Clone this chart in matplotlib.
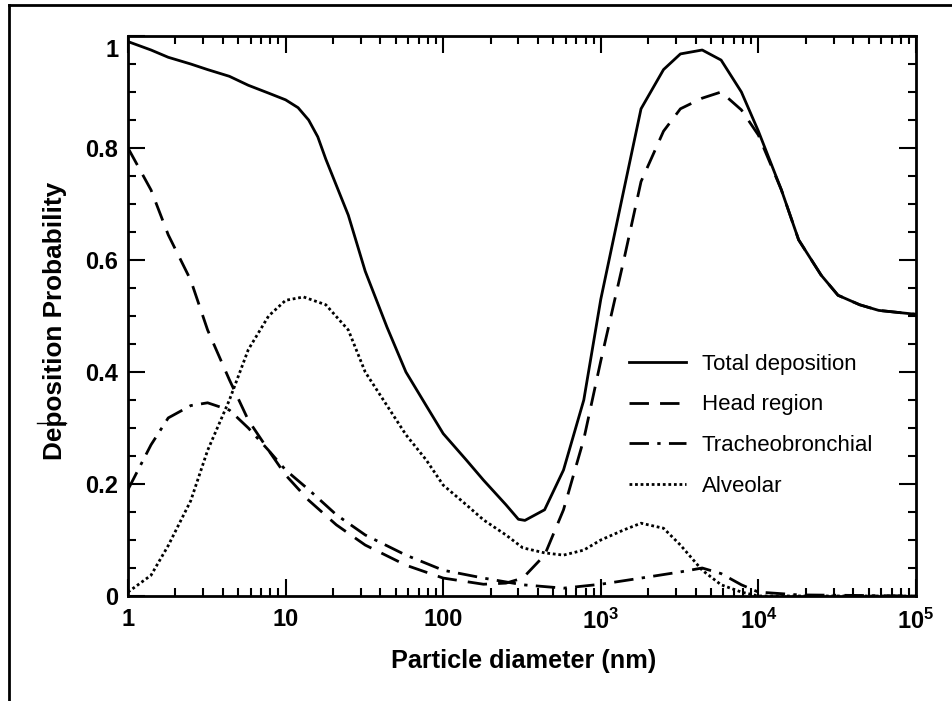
import matplotlib
matplotlib.use("Agg")
import matplotlib.pyplot as plt
import matplotlib.transforms as mtransforms
from matplotlib.lines import Line2D
from matplotlib.ticker import FixedLocator, NullFormatter

plt.rcParams['font.family'] = ['Liberation Sans', 'DejaVu Sans']
plt.rcParams['mathtext.fontset'] = 'custom'
plt.rcParams['mathtext.rm'] = 'Liberation Sans:bold'

# diameters (nm) and deposition fractions
total_d = [1, 1.4, 1.8, 2.5, 3.2, 4.4, 5.8, 7.8, 10, 12, 14, 16, 18, 25, 32, 44, 58, 78, 100,
           140, 180, 250, 300, 330, 440, 580, 780, 1000, 1400, 1800, 2500, 3200, 4400,
           5800, 7800, 10000, 14000, 18000, 25000, 32000, 44000, 58000, 100000]
total_p = [0.99, 0.975, 0.962, 0.95, 0.94, 0.928, 0.912, 0.898, 0.886, 0.872, 0.85, 0.82,
           0.78, 0.68, 0.58, 0.48, 0.40, 0.34, 0.29, 0.243, 0.207, 0.163, 0.137, 0.135,
           0.154, 0.225, 0.35, 0.53, 0.725, 0.87, 0.94, 0.968, 0.975, 0.957, 0.90, 0.83,
           0.725, 0.636, 0.573, 0.537, 0.52, 0.51, 0.503]

head_d = [1, 1.4, 1.8, 2.5, 3.2, 4.4, 5.8, 7.8, 10, 14, 21, 32, 58, 100, 180, 250, 320,
          440, 580, 780, 1000, 1400, 1800, 2500, 3200, 4400, 5800, 7800, 10000, 14000,
          18000, 25000, 32000, 44000, 58000, 100000]
head_p = [0.80, 0.725, 0.645, 0.564, 0.475, 0.386, 0.314, 0.26, 0.216, 0.171, 0.127,
          0.091, 0.055, 0.032, 0.021, 0.023, 0.032, 0.073, 0.154, 0.28, 0.42, 0.60, 0.74,
          0.83, 0.87, 0.889, 0.90, 0.868, 0.823, 0.725, 0.636, 0.573, 0.537, 0.52, 0.51,
          0.503]

tb_d = [1, 1.4, 1.8, 2.5, 3.2, 4.4, 5.8, 7.8, 10, 14, 21, 32, 58, 100, 180, 320, 580,
        1000, 1800, 3200, 4400, 5800, 7800, 10000, 18000, 100000]
tb_p = [0.19, 0.27, 0.318, 0.34, 0.345, 0.332, 0.30, 0.26, 0.225, 0.19, 0.145, 0.109,
        0.073, 0.046, 0.032, 0.02, 0.014, 0.021, 0.032, 0.043, 0.05, 0.04, 0.02, 0.007,
        0.002, 0.0]

alv_d = [1, 1.4, 1.8, 2.5, 3.2, 4.4, 5.8, 7.8, 10, 13, 18, 25, 32, 44, 58, 78, 100, 140,
         180, 250, 320, 440, 580, 780, 1000, 1400, 1800, 2500, 3200, 4400, 5800, 7800,
         10000, 100000]
alv_p = [0.007, 0.037, 0.09, 0.17, 0.26, 0.35, 0.44, 0.50, 0.528, 0.534, 0.52, 0.475,
         0.40, 0.34, 0.288, 0.243, 0.198, 0.163, 0.136, 0.109, 0.086, 0.077, 0.073, 0.082,
         0.10, 0.118, 0.13, 0.121, 0.091, 0.046, 0.02, 0.007, 0.0, 0.0]

labels = ['Total deposition', 'Head region', 'Tracheobronchial', 'Alveolar']
x_ticks = [1, 10, 100, 1000, 10000, 100000]
x_tick_labels = ['1', '10', '100', r'$\mathregular{10^3}$', r'$\mathregular{10^4}$',
                 r'$\mathregular{10^5}$']
y_ticks = [0, 0.2, 0.4, 0.6, 0.8, 1]
y_tick_labels = ['0', '0.2', '0.4', '0.6', '0.8', '1']

fig = plt.figure(figsize=(9.52, 7.01), dpi=100)
ax = fig.add_axes([128 / 952, 105 / 701, 788 / 952, 560 / 701])

lw = 2.0
ax.plot(total_d, total_p, color='black', lw=lw, linestyle='-', label=labels[0])
ax.plot(head_d, head_p, color='black', lw=lw, linestyle=(0, (7, 4)), label=labels[1])
ax.plot(tb_d, tb_p, color='black', lw=lw, linestyle=(0, (7, 3, 1.2, 3)), label=labels[2])
ax.plot(alv_d, alv_p, color='black', lw=lw, linestyle=(0, (1, 1)), label=labels[3])

ax.set_xscale('log')
ax.set_xlim(1, 1e5)
ax.set_ylim(0, 1.0)

ax.set_xticks(x_ticks)
ax.set_xticklabels(x_tick_labels)
ax.xaxis.set_minor_locator(FixedLocator([m * 10 ** e for e in range(5) for m in range(2, 10)]))
ax.xaxis.set_minor_formatter(NullFormatter())
ax.set_yticks(y_ticks)
ax.set_yticklabels(y_tick_labels)
ax.yaxis.set_minor_locator(FixedLocator([i * 0.05 for i in range(21)]))

ax.tick_params(which='both', direction='in', top=True, right=True, width=1.5)
ax.tick_params(which='major', length=12, labelsize=17)
ax.tick_params(which='minor', length=6)
ax.tick_params(axis='x', which='major', pad=9)
ax.tick_params(axis='y', which='major', pad=7)
for lab in ax.get_xticklabels() + ax.get_yticklabels():
    lab.set_fontweight('bold')
# the "1" on the y axis sits a little below its tick in the original
top_lab = ax.get_yticklabels()[-1]
top_lab.set_transform(top_lab.get_transform() +
                      mtransforms.ScaledTranslation(0, -12 / 100, fig.dpi_scale_trans))
for s in ax.spines.values():
    s.set_linewidth(2)

fig.text(524 / 952, 1 - 661 / 701, 'Particle diameter (nm)', fontsize=18.2,
         fontweight='bold', ha='center', va='center')
fig.text(55 / 952, 1 - 321 / 701, 'Deposition Probability', fontsize=18.8,
         fontweight='bold', ha='center', va='center', rotation=90)

ax.legend(loc='upper left', bbox_to_anchor=(0.610, 0.468), frameon=False, fontsize=16,
          handlelength=2.6, handletextpad=0.68, labelspacing=0.88)

# page frame and stray mark from the scanned source
fig.add_artist(Line2D([9 / 952, 1], [1 - 5 / 701, 1 - 5 / 701], color='black', lw=2))
fig.add_artist(Line2D([9 / 952, 9 / 952], [0, 1 - 5 / 701], color='black', lw=2))
fig.add_artist(Line2D([37 / 952, 66 / 952], [1 - 423 / 701, 1 - 423 / 701], color='black', lw=1))

fig.savefig('out.png', dpi=100)
